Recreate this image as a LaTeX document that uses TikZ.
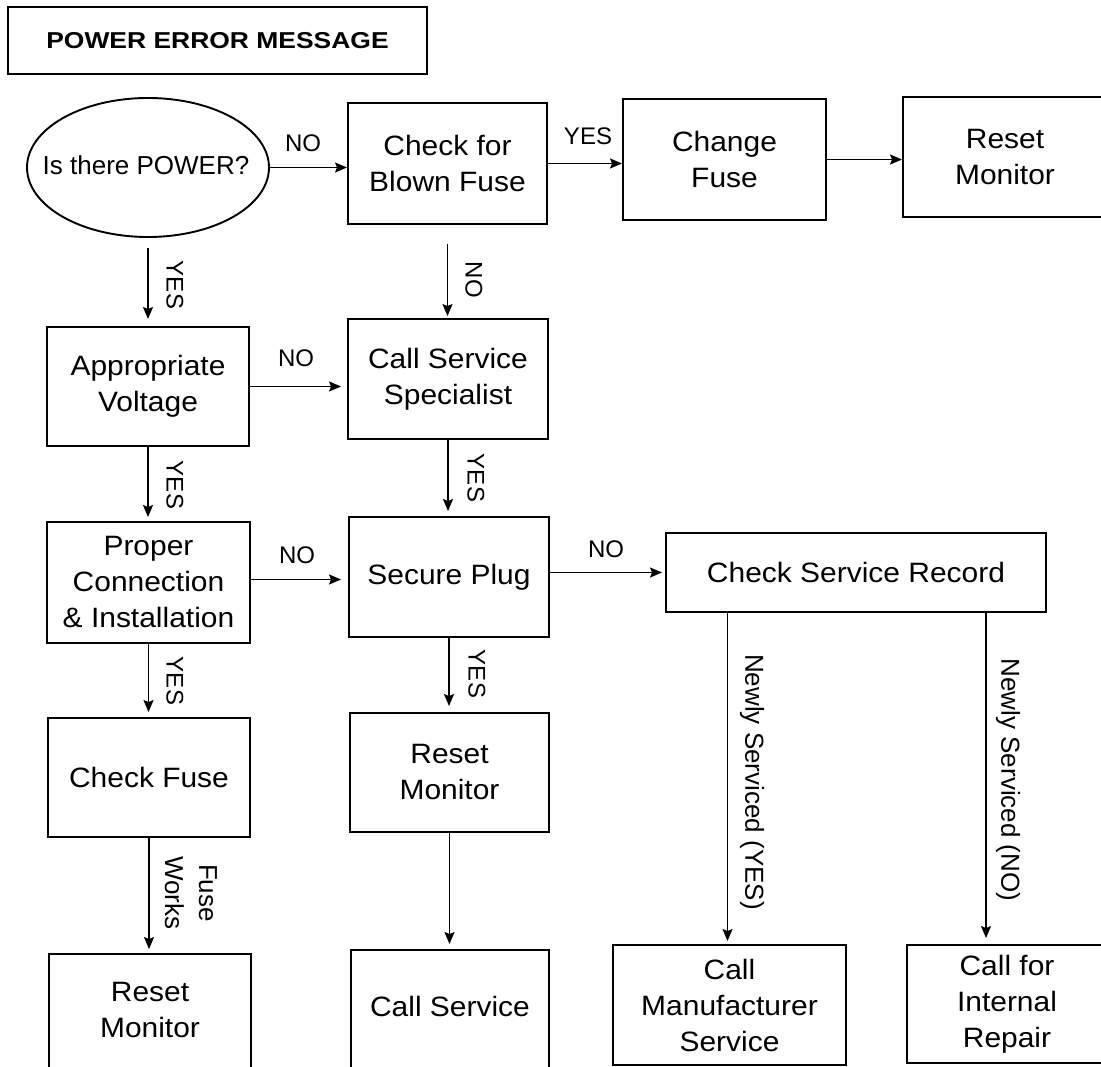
\documentclass[tikz,border=0pt]{standalone}
\usepackage{fontspec}
\setmainfont{Liberation Sans}
\newfontfamily\boxfont{Liberation Sans}[FakeStretch=1.07]
\newfontfamily\titlefont{Liberation Sans}[FakeStretch=1.15]
\usetikzlibrary{shapes.geometric,arrows.meta}
\begin{document}
\begin{tikzpicture}[x=1pt,y=-1pt,
  box/.style={draw, line width=1.9pt, inner sep=0pt, align=center, font=\boxfont\fontsize{28}{36}\selectfont},
  boxtext/.style={inner sep=0pt, align=center, font=\boxfont\fontsize{28}{36}\selectfont},
  arr/.style={line width=1.6pt, -{Stealth[length=12pt,width=10pt,inset=2pt]}},
  lbl/.style={font=\fontsize{24}{28}\selectfont, inner sep=0pt},
  vlbl/.style={lbl, rotate=-90},
  biglbl/.style={font=\fontsize{26}{34}\selectfont, inner sep=0pt, rotate=-90, align=center},
  ]
\useasboundingbox (0,0) rectangle (1101,1067);

% title
\node[draw, line width=1.9pt, minimum width=419pt, minimum height=67pt, inner sep=0pt,
      font=\titlefont\bfseries\fontsize{23}{28}\selectfont] (title) at (217.5,40.5) {POWER ERROR MESSAGE};

% nodes
\node[ellipse, draw, line width=1.9pt, minimum width=242pt, minimum height=139pt, inner sep=0pt] (pw) at (148,167.5) {};
\node[inner sep=0pt, font=\fontsize{26}{30}\selectfont] (pwt) at (146,165) {Is there POWER?};
\node[box, minimum width=199pt, minimum height=121pt] (cbf) at (447.5,163.5) {Check for\\Blown Fuse};
\node[box, minimum width=203pt, minimum height=121pt] (chf) at (724.5,159.5) {Change\\Fuse};
\node[box, minimum width=204pt, minimum height=120pt] (rm1) at (1005,157) {Reset\\Monitor};
\node[box, minimum width=202pt, minimum height=119pt] (av) at (148,386.5) {Appropriate\\Voltage};
\node[box, minimum width=200pt, minimum height=120pt] (css) at (448,379) {Call Service\\Specialist};
\node[box, minimum width=203pt, minimum height=121pt] (pc) at (148.5,582.5) {Proper\\Connection\\\& Installation};
\node[box, minimum width=200pt, minimum height=120pt] (sp) at (449,577) {Secure Plug};
\node[box, minimum width=380pt, minimum height=79pt] (csr) at (856,572.5) {Check Service Record};
\node[box, minimum width=202pt, minimum height=119pt] (cf2) at (149,777.5) {Check Fuse};
\node[box, minimum width=199pt, minimum height=119pt] (rm2) at (449.5,772.5) {Reset\\Monitor};
\node[box, minimum width=202pt, minimum height=126pt] (rm3) at (150,1017) {};
\node[boxtext] (rm3t) at (150,1010) {Reset\\Monitor};
\node[box, minimum width=198pt, minimum height=130pt] (cs) at (450,1015) {};
\node[boxtext] (cst) at (450,1006) {Call Service};
\node[box, minimum width=233pt, minimum height=120pt] (cms) at (729.5,1005) {Call\\Manufacturer\\Service};
\node[box, minimum width=200pt, minimum height=118pt] (cir) at (1007,1004) {Call for\\Internal\\Repair};
\coordinate (cirx) at (986,0);

% connectors
\draw[arr] (pw.east) -- (pw.east -| cbf.west);
\draw[arr] (cbf.east) -- (cbf.east -| chf.west);
\draw[arr] (chf.east) -- (chf.east -| rm1.west);
\draw[arr, shorten <=10pt, shorten >=7pt] (pw.south) -- (av.north);
\draw[arr, shorten <=19pt, shorten >=2pt] (cbf.south) -- (cbf.south |- css.north);
\draw[arr, shorten >=6pt] (av.east) -- (av.east -| css.west);
\draw[arr, shorten >=4pt] (av.south) -- (av.south |- pc.north);
\draw[arr, shorten >=5pt] (css.south) -- (css.south |- sp.north);
\draw[arr, shorten >=7pt] ([yshift=3pt]pc.east) -- ([yshift=3pt]pc.east -| sp.west);
\draw[arr, shorten >=3pt] (sp.east |- csr.west) -- (csr.west);
\draw[arr, shorten >=5pt] (pc.south) -- (pc.south |- cf2.north);
\draw[arr, shorten >=6pt] (sp.south) -- (sp.south |- rm2.north);
\draw[arr, shorten >=4pt] (cf2.south) -- (cf2.south |- rm3.north);
\draw[arr, shorten >=5pt] (rm2.south) -- (rm2.south |- cs.north);
\draw[arr, shorten >=3pt] ([xshift=-2pt]csr.south -| cms.north) -- ([xshift=-2pt]cms.north);
\draw[arr, shorten >=6pt] (csr.south -| cirx) -- (cirx |- cir.north);

% labels
\node[lbl] (l1) at (303,143) {NO};
\node[lbl] (l2) at (588,136) {YES};
\node[vlbl] (l3) at (175,285) {YES};
\node[vlbl] (l4) at (474,280) {NO};
\node[lbl] (l5) at (296,358) {NO};
\node[vlbl] (l6) at (175,485) {YES};
\node[vlbl] (l7) at (476,478) {YES};
\node[lbl] (l8) at (297,555) {NO};
\node[lbl] (l9) at (606,549) {NO};
\node[vlbl] (l10) at (175,681) {YES};
\node[vlbl] (l11) at (477,674) {YES};
\node[biglbl] (l12) at (191,893) {Fuse\\Works};
\node[biglbl] (l13) at (752,782) {Newly Serviced (YES)};
\node[biglbl] (l14) at (1008,780) {Newly Serviced (NO)};
\end{tikzpicture}
\end{document}
